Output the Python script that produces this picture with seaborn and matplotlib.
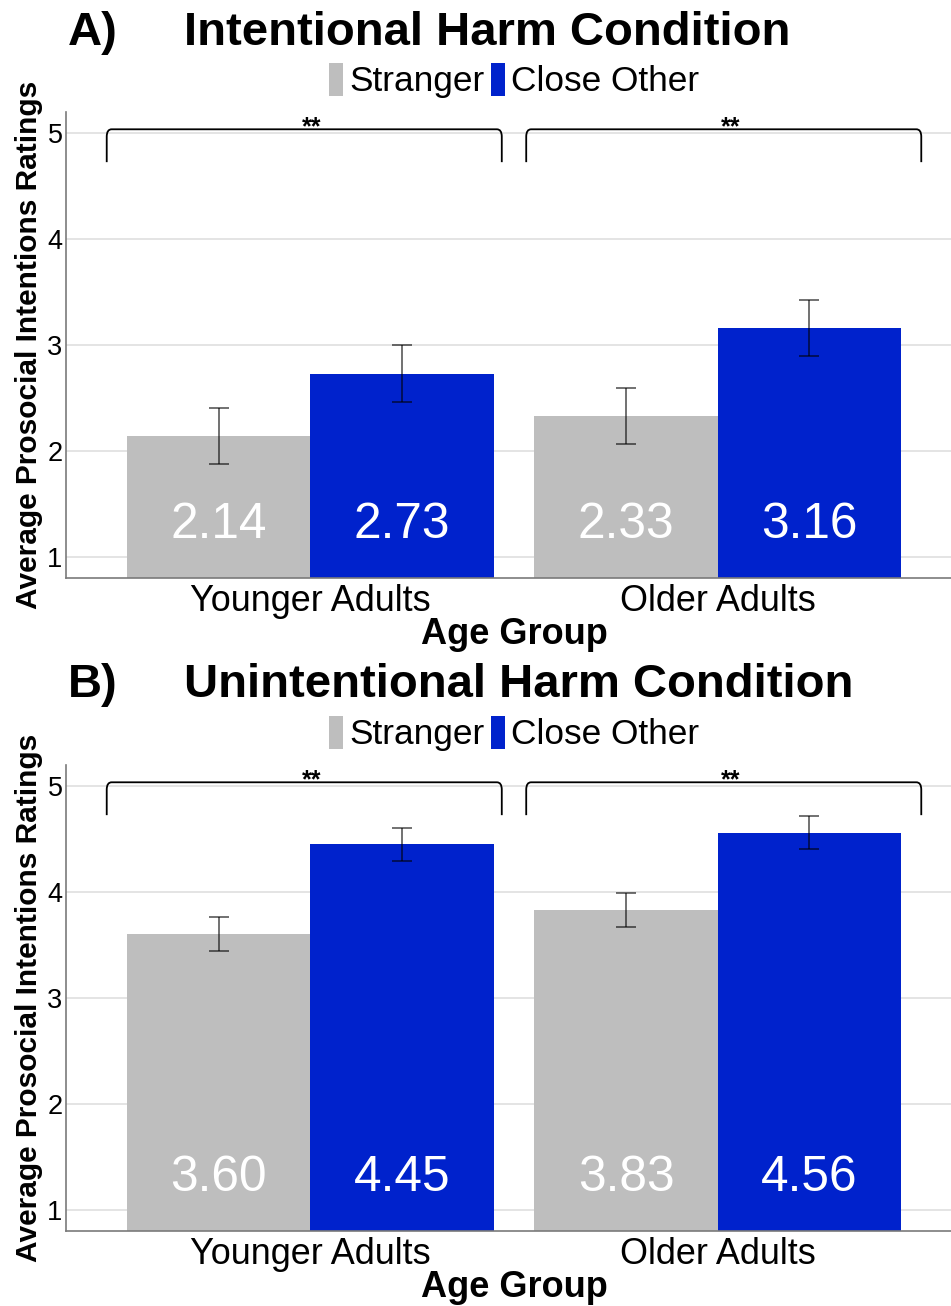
import numpy as np
import pandas as pd
import matplotlib
matplotlib.use("Agg")
import matplotlib.pyplot as plt
import seaborn as sns
from matplotlib.path import Path
from matplotlib.patches import PathPatch, Patch

# ---------------- data ----------------
age_groups = ["Younger Adults", "Older Adults"]
targets = ["Stranger", "Close Other"]
panel_labels = ["A)", "B)"]
panel_titles = ["Intentional Harm Condition", "Unintentional Harm Condition"]

intentional_stranger = [2.14, 2.33]
intentional_close = [2.73, 3.16]
intentional_stranger_se = [0.265, 0.268]
intentional_close_se = [0.27, 0.265]

unintentional_stranger = [3.60, 3.83]
unintentional_close = [4.45, 4.56]
unintentional_stranger_se = [0.16, 0.16]
unintentional_close_se = [0.155, 0.155]

significance = ["**", "**"]
y_ticks = [1, 2, 3, 4, 5]

palette = {"Stranger": "#BEBEBE", "Close Other": "#0022CC"}

# ---------------- style ----------------
sns.set_theme(style="white")
plt.rcParams["font.family"] = ["Liberation Sans", "DejaVu Sans"]
plt.rcParams["text.color"] = "black"

W, H = 951, 1306
fig = plt.figure(figsize=(W / 100, H / 100), dpi=100)

panels = [
    dict(stranger=intentional_stranger, close=intentional_close,
         s_se=intentional_stranger_se, c_se=intentional_close_se,
         ax_top=111.8, ax_bot=578.2, title_base=45),
    dict(stranger=unintentional_stranger, close=unintentional_close,
         s_se=unintentional_stranger_se, c_se=unintentional_close_se,
         ax_top=764.8, ax_bot=1231.2, title_base=697),
]

ax_left_px, ax_right_px = 66, 962

for i, p in enumerate(panels):
    df = pd.DataFrame({
        "group": age_groups * 2,
        "target": [targets[0]] * 2 + [targets[1]] * 2,
        "value": list(p["stranger"]) + list(p["close"]),
        "se": list(p["s_se"]) + list(p["c_se"]),
    })
    ax = fig.add_axes([ax_left_px / W, 1 - p["ax_bot"] / H,
                       (ax_right_px - ax_left_px) / W,
                       (p["ax_bot"] - p["ax_top"]) / H])
    sns.barplot(data=df, x="group", y="value", hue="target",
                order=age_groups, hue_order=targets, palette=palette,
                width=0.9, errorbar=None, saturation=1, linewidth=0,
                legend=False, ax=ax, zorder=2)

    # error bars and value labels
    for container, level in zip(ax.containers, targets):
        sub = df[df["target"] == level].set_index("group").loc[age_groups]
        for bar, m, s in zip(container, sub["value"], sub["se"]):
            cx = bar.get_x() + bar.get_width() / 2
            ax.errorbar(cx, m, yerr=s, color="black", alpha=0.65,
                        elinewidth=1.2, capsize=7.5, capthick=1.2, zorder=3)
            ax.text(cx, 1.3, f"{m:.2f}", ha="center", va="center",
                    color="white", fontsize=35.7, zorder=4)

    # significance brackets
    ytop, ybot = 5.035, 4.725
    for gi, star in enumerate(significance):
        x0 = gi - 0.5 + (0.03 if gi == 1 else 0.0)
        x1 = gi + 0.47 + (0.03 if gi == 1 else 0.0)
        r, d = 0.012, 0.07
        verts = [(x0, ybot), (x0, ytop - d), (x0, ytop), (x0 + r, ytop),
                 (x1 - r, ytop), (x1, ytop), (x1, ytop - d), (x1, ybot)]
        codes = [Path.MOVETO, Path.LINETO, Path.CURVE3, Path.CURVE3,
                 Path.LINETO, Path.CURVE3, Path.CURVE3, Path.LINETO]
        ax.add_patch(PathPatch(Path(verts, codes), fill=False,
                               edgecolor="black", lw=1.3, zorder=5,
                               clip_on=False))
        ax.text((x0 + x1) / 2 + 0.018, 4.99, star, ha="center",
                va="baseline", fontsize=18, fontweight="bold",
                color="black", zorder=5)

    ax.set_xlim(-0.6, 1.6)
    ax.set_ylim(0.8, 5.2)
    ax.set_yticks(y_ticks)
    ax.yaxis.grid(True, color="#DCDCDC", lw=1.1)
    ax.xaxis.grid(False)
    ax.set_axisbelow(True)
    for side in ["top", "right"]:
        ax.spines[side].set_visible(False)
    for side in ["left", "bottom"]:
        ax.spines[side].set_color("#7A7A7A")
        ax.spines[side].set_linewidth(1.2)
    ax.tick_params(axis="y", length=0, pad=2.5, labelsize=19.5,
                   labelcolor="black")
    ax.tick_params(axis="x", length=0, pad=4.0, labelsize=25.9,
                   labelcolor="black")

    ax.set_ylabel("Average Prosocial Intentions Ratings", fontsize=21.5,
                  fontweight="bold", color="black")
    ax.yaxis.set_label_coords((43 - ax_left_px) / (ax_right_px - ax_left_px), 0.5)
    ax.set_xlabel("Age Group", fontsize=26, fontweight="bold",
                  color="black", labelpad=-1.5)

    handles = [Patch(facecolor=palette[t], edgecolor="none", label=t)
               for t in targets]
    ax.legend(handles=handles, loc="center",
              bbox_to_anchor=(0.5, 1 + 31 / (p["ax_bot"] - p["ax_top"])),
              ncol=2, frameon=False, fontsize=25.4, handlelength=0.4,
              handleheight=1.05, handletextpad=0.17, columnspacing=0.17,
              borderaxespad=0, borderpad=0, labelcolor="black")

    fig.text(68 / W, 1 - p["title_base"] / H, panel_labels[i], fontsize=34,
             fontweight="bold", va="baseline", ha="left", color="black")
    fig.text(184 / W, 1 - p["title_base"] / H, panel_titles[i], fontsize=34,
             fontweight="bold", va="baseline", ha="left", color="black")

fig.savefig("out.png", dpi=100)
